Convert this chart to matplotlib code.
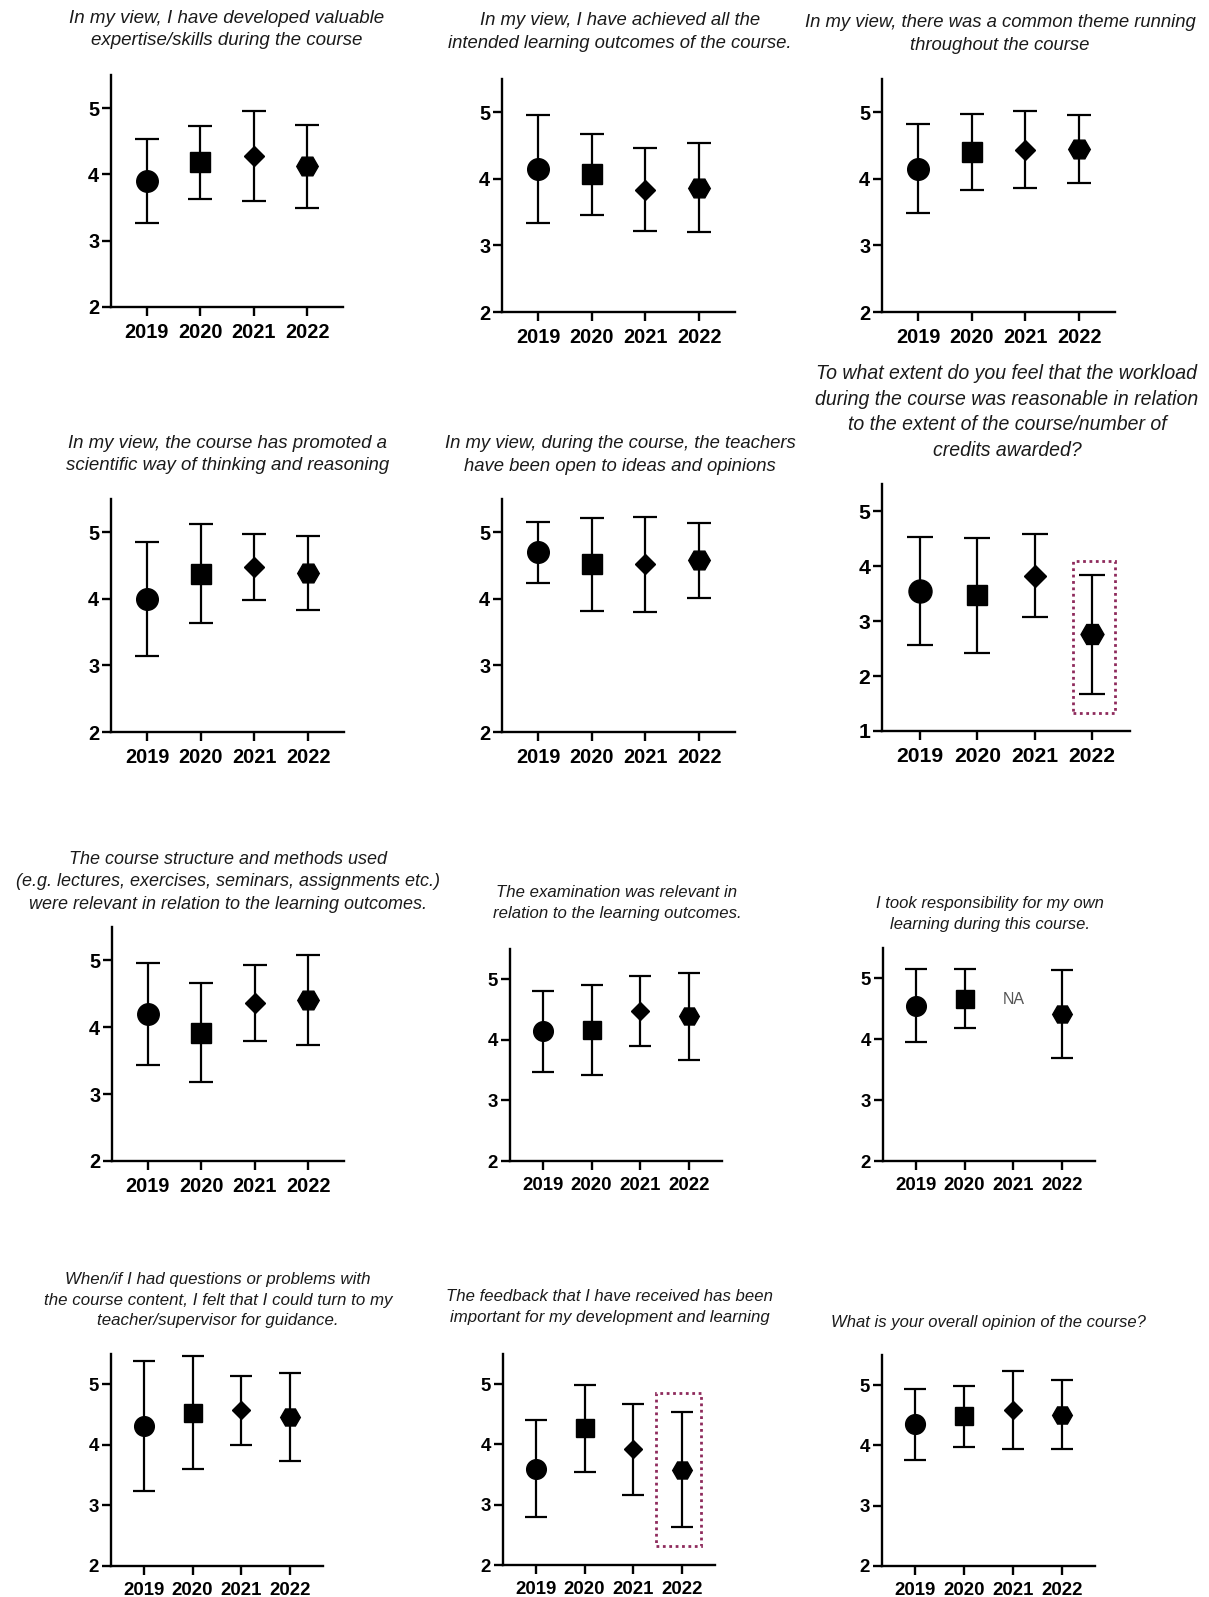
import numpy as np
import matplotlib.pyplot as plt
from matplotlib.patches import Rectangle

plt.rcParams['font.family'] = ['Liberation Sans', 'DejaVu Sans']

# data: mean and SD per year
years = ['2019', '2020', '2021', '2022']
markers = ['o', 's', 'D', 'H']

titles = [
    'In my view, I have developed valuable\nexpertise/skills during the course',
    'In my view, I have achieved all the\nintended learning outcomes of the course.',
    'In my view, there was a common theme running\nthroughout the course',
    'In my view, the course has promoted a\nscientific way of thinking and reasoning',
    'In my view, during the course, the teachers\nhave been open to ideas and opinions',
    'To what extent do you feel that the workload\nduring the course was reasonable in relation\nto the extent of the course/number of\ncredits awarded?',
    'The course structure and methods used\n(e.g. lectures, exercises, seminars, assignments etc.)\nwere relevant in relation to the learning outcomes.',
    'The examination was relevant in\nrelation to the learning outcomes.',
    'I took responsibility for my own\nlearning during this course.',
    'When/if I had questions or problems with\nthe course content, I felt that I could turn to my\nteacher/supervisor for guidance.',
    'The feedback that I have received has been\nimportant for my development and learning',
    'What is your overall opinion of the course?',
]

means = [
    [3.90, 4.18, 4.28, 4.12],
    [4.15, 4.07, 3.84, 3.87],
    [4.15, 4.41, 4.44, 4.45],
    [4.00, 4.38, 4.48, 4.39],
    [4.70, 4.52, 4.52, 4.58],
    [3.55, 3.47, 3.83, 2.76],
    [4.20, 3.92, 4.36, 4.41],
    [4.14, 4.16, 4.48, 4.39],
    [4.55, 4.67, np.nan, 4.42],
    [4.31, 4.53, 4.57, 4.46],
    [3.60, 4.27, 3.92, 3.58],
    [4.35, 4.48, 4.59, 4.51],
]
sds = [
    [0.64, 0.55, 0.68, 0.62],
    [0.81, 0.61, 0.62, 0.67],
    [0.67, 0.57, 0.58, 0.51],
    [0.86, 0.74, 0.50, 0.555],
    [0.46, 0.70, 0.71, 0.56],
    [0.99, 1.05, 0.75, 1.09],
    [0.76, 0.74, 0.565, 0.67],
    [0.665, 0.74, 0.58, 0.715],
    [0.60, 0.48, np.nan, 0.72],
    [1.08, 0.93, 0.575, 0.725],
    [0.81, 0.72, 0.755, 0.955],
    [0.585, 0.51, 0.65, 0.57],
]
ylows = [2, 2, 2, 2, 2, 1, 2, 2, 2, 2, 2, 2]
na_panel = 8

# dotted highlight boxes (panel, x0, x1, y0, y1)
highlights = [(5, 2.665, 3.416, 1.32, 4.10), (10, 2.47, 3.38, 2.32, 4.85)]

# layout in pixels: axes left, right, top(5.5), bottom
W, H = 1209, 1597
boxes = [
    (111, 343, 75, 307), (502, 735, 79, 312), (882, 1115, 79, 312),
    (111, 344, 499, 732), (502, 735, 499, 732), (882, 1130, 484, 731),
    (112, 344, 927, 1161), (510, 722, 949, 1161), (883, 1095, 948, 1161),
    (111, 323, 1354, 1566), (503, 715, 1354, 1565), (882, 1095, 1355, 1566),
]
title_pos = [
    (227, 29.5), (620, 32), (1000, 34), (228, 454.5), (620, 455), (1007, 412),
    (228, 882), (617, 903), (990, 914), (218, 1300), (610, 1307), (988, 1323),
]
title_size = [13.5, 13.35, 13.35, 13.4, 13.3, 14.05, 12.95, 12.05, 12.0, 12.2, 12.1, 12.0]
tick_size = [14.3, 14.3, 14.3, 14.3, 14.3, 15.2, 14.3, 13.4, 13.4, 13.4, 13.4, 13.4]

fig = plt.figure(figsize=(W / 100, H / 100), dpi=100)

for k in range(12):
    L, R, T, B = boxes[k]
    ax = fig.add_axes([L / W, 1 - B / H, (R - L) / W, (B - T) / H])
    sc = (R - L) / 232.0
    for i in range(4):
        if np.isnan(means[k][i]):
            continue
        ms = [15.5, 14, 10.5, 15.5][i] * sc
        ax.errorbar(i, means[k][i], yerr=sds[k][i], fmt=markers[i], color='black',
                    ms=ms, capsize=8.5 * sc, elinewidth=1.6, capthick=1.6, clip_on=False)
    if k == na_panel:
        ax.text(2, 4.65, 'NA', ha='center', va='center', color='#555555', fontsize=11.5)
    for (p, x0, x1, y0, y1) in highlights:
        if p == k:
            ax.add_patch(Rectangle((x0, y0), x1 - x0, y1 - y0, fill=False,
                                   edgecolor='#8e2a5c', lw=2, linestyle=(0, (1, 1.3))))
    ax.set_xlim(-0.67, 3.67)
    ax.set_ylim(ylows[k], 5.5)
    ax.set_xticks(range(4))
    ax.set_xticklabels(years)
    ax.set_yticks(range(ylows[k], 6))
    for s in ['top', 'right']:
        ax.spines[s].set_visible(False)
    for s in ['left', 'bottom']:
        ax.spines[s].set_linewidth(1.7)
    ax.tick_params(width=1.7, length=6.5, labelsize=tick_size[k])
    ax.tick_params(axis='x', pad=5)
    ax.tick_params(axis='y', pad=2)
    for lab in ax.get_xticklabels() + ax.get_yticklabels():
        lab.set_fontweight('bold')
    x, y = title_pos[k]
    fig.text(x / W, 1 - y / H, titles[k], ha='center', va='center', style='italic',
             fontsize=title_size[k], linespacing=1.45, color='#1a1a1a')

fig.savefig('out.png', dpi=100)
